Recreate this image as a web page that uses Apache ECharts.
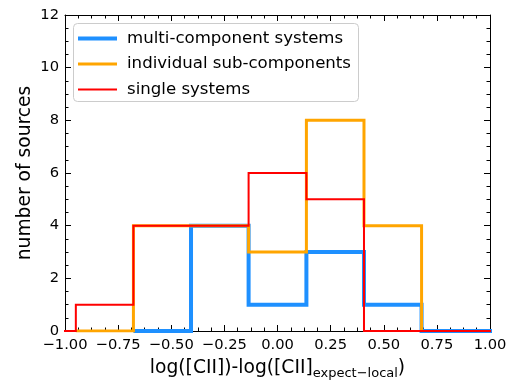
<!DOCTYPE html>
<html>
<head>
<meta charset="utf-8">
<script src="https://cdn.jsdelivr.net/npm/echarts@6/dist/echarts.min.js"></script>
<style>html,body{margin:0;padding:0;background:#fff}#c{width:524px;height:381px}</style>
</head>
<body>
<div id="c"></div>
<script>
// Bin edges shared by all histograms
const binEdges = [-1.220, -0.949, -0.678, -0.407, -0.136, 0.136, 0.407, 0.678, 0.949, 1.220];
// Counts per bin (null = bin not part of that histogram)
const multiCounts  = [null, null, 0, 4, 1, 3, 1, 0, 0];
const subCounts    = [null, 0, 4, 4, 3, 8, 4, null, null];
const singleCounts = [0, 1, 4, 4, 6, 5, 0, 0, 0];
const seriesNames = ['multi-component systems', 'individual sub-components', 'single systems'];
const xTicks = [-1.0, -0.75, -0.5, -0.25, 0.0, 0.25, 0.5, 0.75, 1.0];
const yTicks = [0, 2, 4, 6, 8, 10, 12];

function stepOutline(edges, counts) {
  const pts = [];
  let first = counts.findIndex(v => v !== null);
  let last = counts.length - 1;
  while (counts[last] === null) last--;
  pts.push([edges[first], 0]);
  for (let i = first; i <= last; i++) {
    pts.push([edges[i], counts[i]]);
    pts.push([edges[i + 1], counts[i]]);
  }
  pts.push([edges[last + 1], 0]);
  return pts;
}

const colors = ['#1E90FF', '#FFA500', '#FF0000'];
const widths = [4, 3, 2];
const countsList = [multiCounts, subCounts, singleCounts];

const fmtX = v => (v < 0 ? '\u2212' : '') + Math.abs(v).toFixed(2);

const chart = echarts.init(document.getElementById('c'), null, {renderer: 'canvas'});
const axisCommon = () => ({
  axisLine: {show: true, onZero: false, lineStyle: {color: '#000', width: 1}},
  axisTick: {show: true, inside: true, length: 6, lineStyle: {color: '#000', width: 1}},
  minorTick: {show: true, splitNumber: 4, length: 3.5, lineStyle: {color: '#000', width: 1}},
  splitLine: {show: false}
});
const legendTops = [27, 52, 77];
chart.setOption({
  animation: false,
  backgroundColor: '#fff',
  textStyle: {fontFamily: 'DejaVu Sans'},
  grid: {left: 65, right: 34, top: 15, bottom: 50, containLabel: false, outerBoundsMode: 'none'},
  graphic: [{
    type: 'rect', z: 3, left: 73, top: 23,
    shape: {width: 285, height: 78, r: 4},
    style: {fill: 'rgba(255,255,255,0.8)', stroke: '#cccccc', lineWidth: 1}
  }],
  legend: seriesNames.map((n, i) => ({
    data: [{name: n, icon: 'rect'}],
    left: 78, top: legendTops[i] + (4 - widths[i]) / 2 + 3,
    itemWidth: 39, itemHeight: widths[i],
    padding: 0,
    selectedMode: false,
    z: 5,
    textStyle: {fontSize: 16.6, color: '#000', fontFamily: 'DejaVu Sans', padding: [0, 0, 0, 5]}
  })),
  xAxis: [
    Object.assign({
      type: 'value', min: -1, max: 1, interval: 0.25, position: 'bottom',
      axisLabel: {formatter: fmtX, fontSize: 14.7, color: '#000', margin: 7, fontFamily: 'DejaVu Sans'},
      name: '{a|log([CII])-log([CII]}{b|expect\u2212local}{a|)}',
      nameLocation: 'middle', nameGap: 25,
      nameTextStyle: {
        rich: {
          a: {fontSize: 18.7, color: '#000', fontFamily: 'DejaVu Sans', lineHeight: 24, verticalAlign: 'middle'},
          b: {fontSize: 13, color: '#000', fontFamily: 'DejaVu Sans', lineHeight: 24, verticalAlign: 'bottom'}
        }
      }
    }, axisCommon()),
    Object.assign({
      type: 'value', min: -1, max: 1, interval: 0.25, position: 'top',
      axisLabel: {show: false}
    }, axisCommon())
  ],
  yAxis: [
    Object.assign({
      type: 'value', min: 0, max: 12, interval: 2, position: 'left',
      axisLabel: {fontSize: 14.7, color: '#000', margin: 6, fontFamily: 'DejaVu Sans'},
      name: 'number of sources', nameLocation: 'middle', nameGap: 30, nameRotate: 90,
      nameMoveOverlap: false,
      nameTextStyle: {fontSize: 18.7, color: '#000', fontFamily: 'DejaVu Sans'}
    }, axisCommon()),
    Object.assign({
      type: 'value', min: 0, max: 12, interval: 2, position: 'right',
      axisLabel: {show: false}
    }, axisCommon())
  ],
  series: seriesNames.map((n, i) => ({
    name: n, type: 'line', xAxisIndex: 0, yAxisIndex: 0,
    data: stepOutline(binEdges, countsList[i]),
    showSymbol: false, symbol: 'none', clip: true, z: 2 + i,
    color: colors[i],
    itemStyle: {color: colors[i]},
    lineStyle: {color: colors[i], width: widths[i], join: 'miter', cap: 'butt'}
  }))
});
</script>
</body>
</html>
